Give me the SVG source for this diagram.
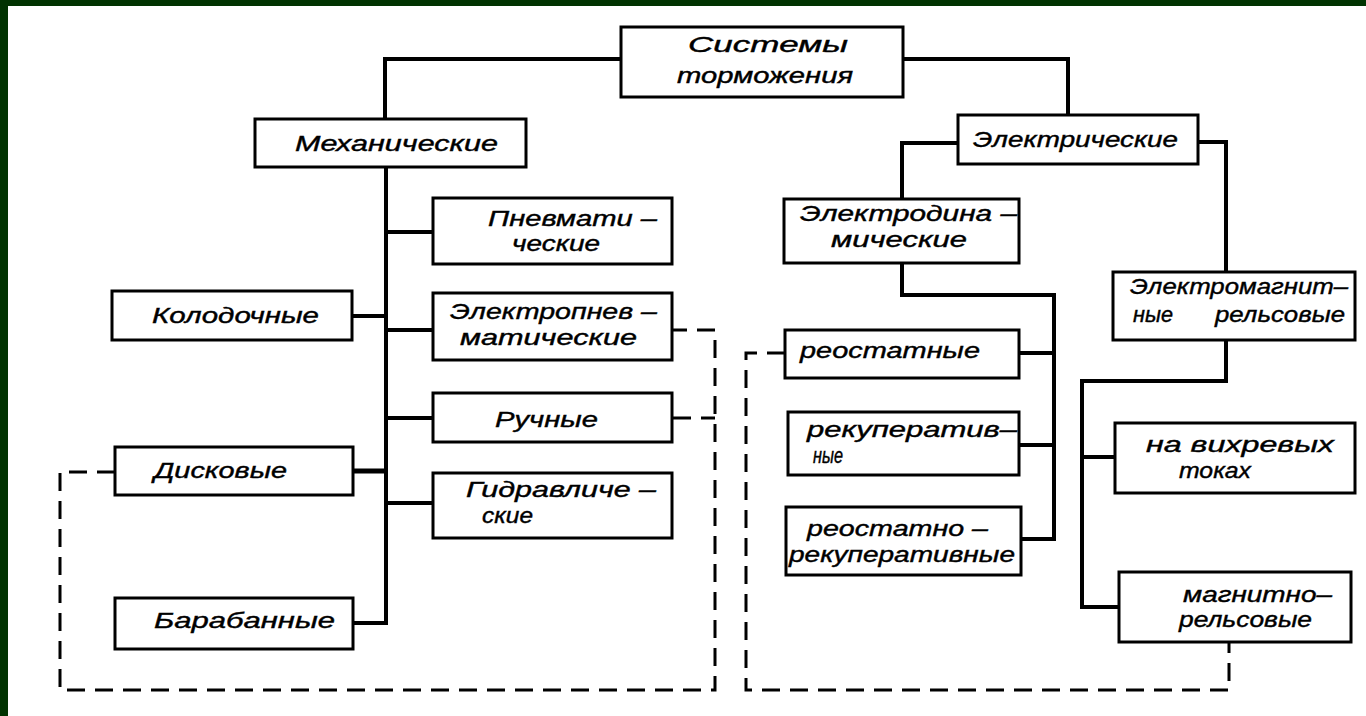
<svg xmlns="http://www.w3.org/2000/svg" width="1366" height="716" viewBox="0 0 1366 716">
<style>
.box{fill:#fff;stroke:#000;stroke-width:3}
.ln{fill:none;stroke:#000;stroke-width:4;stroke-linejoin:miter}
.ds{fill:none;stroke:#000;stroke-width:3;stroke-dasharray:18 10}
text{font-family:"Liberation Sans","DejaVu Sans",sans-serif;font-style:italic;font-size:22px;fill:#000;stroke:#000;stroke-width:0.4}
</style>
<rect x="0" y="0" width="1366" height="716" fill="#013301"/>
<rect x="8" y="6" width="1358" height="710" fill="#fff"/>
<g id="connectors">
<path class="ln" d="M621,59 H385 V119"/>
<path class="ln" d="M903,59 H1068 V115"/>
<path class="ln" d="M386,167 V623"/>
<path class="ln" d="M386,232 H433"/>
<path class="ln" d="M352,316 H386"/>
<path class="ln" d="M386,330 H433"/>
<path class="ln" d="M386,418 H433"/>
<path class="ln" d="M353,471 H386" style="stroke-width:5"/>
<path class="ln" d="M386,503 H433"/>
<path class="ln" d="M353,623 H388"/>
<path class="ln" d="M958,143 H902 V199"/>
<path class="ln" d="M1198,142 H1226 V272"/>
<path class="ln" d="M902,263 V295 H1054 V539 H1021"/>
<path class="ln" d="M1019,353 H1054"/>
<path class="ln" d="M1019,445 H1054"/>
<path class="ln" d="M1226,340 V381 H1082 V607 H1119"/>
<path class="ln" d="M1082,457 H1115"/>
<path class="ds" d="M115,472 H60 V690 H715 V330 H673"/>
<path class="ds" d="M673,418 H715"/>
<path class="ds" d="M785,353 H746 V690 H1229 V642"/>
</g>
<g id="sys"><rect class="box" x="621" y="27" width="282" height="70"/>
<text x="688" y="52" textLength="160" lengthAdjust="spacingAndGlyphs">Системы</text>
<text x="677" y="83" textLength="176" lengthAdjust="spacingAndGlyphs">торможения</text></g>
<g id="mech"><rect class="box" x="255" y="119" width="271" height="48"/>
<text x="295" y="151" textLength="203" lengthAdjust="spacingAndGlyphs">Механические</text></g>
<g id="elec"><rect class="box" x="958" y="115" width="240" height="49"/>
<text x="973" y="147" textLength="205" lengthAdjust="spacingAndGlyphs">Электрические</text></g>
<g id="pnev"><rect class="box" x="433" y="198" width="239" height="66"/>
<text x="488" y="226" textLength="169" lengthAdjust="spacingAndGlyphs">Пневмати –</text>
<text x="512" y="251" textLength="88" lengthAdjust="spacingAndGlyphs">ческие</text></g>
<g id="elpnev"><rect class="box" x="433" y="293" width="239" height="67"/>
<text x="450" y="319" textLength="207" lengthAdjust="spacingAndGlyphs">Электропнев –</text>
<text x="460" y="345" textLength="177" lengthAdjust="spacingAndGlyphs">матические</text></g>
<g id="kolod"><rect class="box" x="112" y="291" width="240" height="49"/>
<text x="152" y="323" textLength="167" lengthAdjust="spacingAndGlyphs">Колодочные</text></g>
<g id="ruch"><rect class="box" x="433" y="393" width="239" height="49"/>
<text x="495" y="427" textLength="103" lengthAdjust="spacingAndGlyphs">Ручные</text></g>
<g id="disk"><rect class="box" x="115" y="447" width="238" height="48"/>
<text x="154" y="478" textLength="133" lengthAdjust="spacingAndGlyphs">Дисковые</text></g>
<g id="gidr"><rect class="box" x="433" y="473" width="239" height="65"/>
<text x="466" y="497" textLength="190" lengthAdjust="spacingAndGlyphs">Гидравличе –</text>
<text x="482" y="523" textLength="51" lengthAdjust="spacingAndGlyphs">ские</text></g>
<g id="baraban"><rect class="box" x="115" y="598" width="238" height="51"/>
<text x="154" y="628" textLength="181" lengthAdjust="spacingAndGlyphs">Барабанные</text></g>
<g id="eldyn"><rect class="box" x="784" y="199" width="235" height="64"/>
<text x="800" y="221" textLength="217" lengthAdjust="spacingAndGlyphs">Электродина –</text>
<text x="831" y="247" textLength="136" lengthAdjust="spacingAndGlyphs">мические</text></g>
<g id="emag"><rect class="box" x="1113" y="272" width="242" height="68"/>
<text x="1130" y="294" textLength="218" lengthAdjust="spacingAndGlyphs">Электромагнит–</text>
<text x="1133" y="322" textLength="40" lengthAdjust="spacingAndGlyphs">ные</text>
<text x="1215" y="322" textLength="130" lengthAdjust="spacingAndGlyphs">рельсовые</text></g>
<g id="reost"><rect class="box" x="785" y="330" width="234" height="48"/>
<text x="800" y="358" textLength="180" lengthAdjust="spacingAndGlyphs">реостатные</text></g>
<g id="rekup"><rect class="box" x="788" y="412" width="231" height="63"/>
<text x="807" y="437" textLength="210" lengthAdjust="spacingAndGlyphs">рекуператив–</text>
<text x="813" y="463" textLength="30" lengthAdjust="spacingAndGlyphs">ные</text></g>
<g id="reorek"><rect class="box" x="786" y="507" width="235" height="68"/>
<text x="807" y="536" textLength="181" lengthAdjust="spacingAndGlyphs">реостатно –</text>
<text x="789" y="562" textLength="226" lengthAdjust="spacingAndGlyphs">рекуперативные</text></g>
<g id="vihr"><rect class="box" x="1115" y="423" width="240" height="70"/>
<text x="1146" y="452" textLength="188" lengthAdjust="spacingAndGlyphs">на вихревых</text>
<text x="1179" y="478" textLength="72" lengthAdjust="spacingAndGlyphs">токах</text></g>
<g id="magn"><rect class="box" x="1119" y="572" width="232" height="70"/>
<text x="1183" y="602" textLength="149" lengthAdjust="spacingAndGlyphs">магнитно–</text>
<text x="1179" y="627" textLength="133" lengthAdjust="spacingAndGlyphs">рельсовые</text></g>
</svg>
